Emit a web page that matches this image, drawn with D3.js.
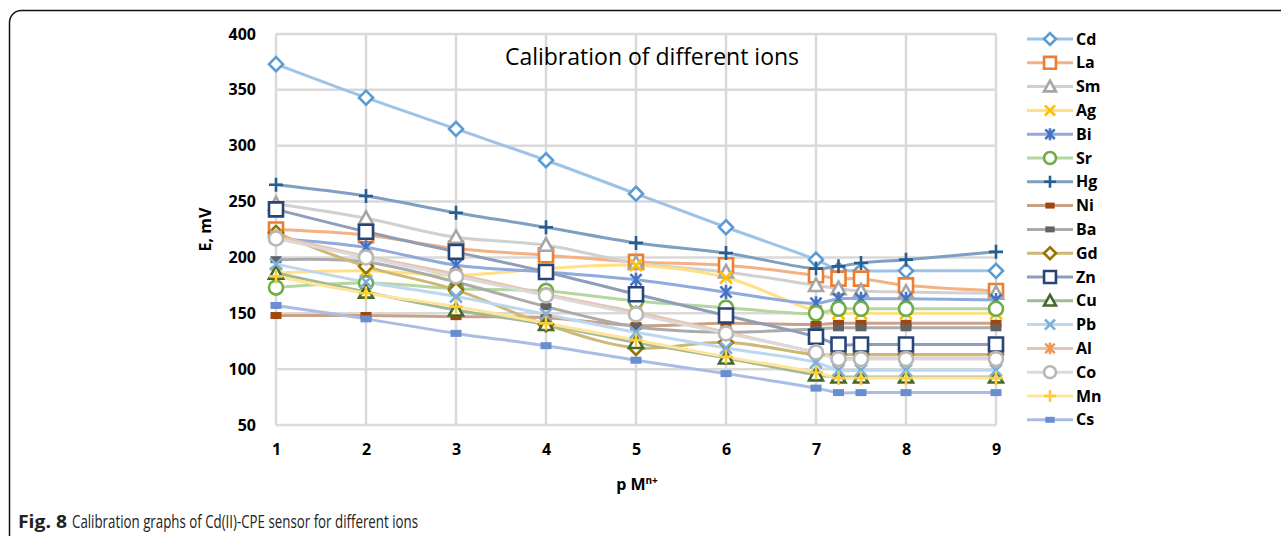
<!DOCTYPE html>
<html>
<head>
<meta charset="utf-8">
<script src="https://cdn.jsdelivr.net/npm/d3@7"></script>
<style>
  html, body { margin: 0; padding: 0; background: #fff; }
  svg { display: block; }
  text { font-family: "Open Sans", "Liberation Sans", sans-serif; }
</style>
</head>
<body>
<svg id="chart" width="1281" height="536"></svg>
<script>
// pM values (x) shared by every ion series
const pM = [1, 2, 3, 4, 5, 6, 7, 7.25, 7.5, 8, 9];

// Electrode potential E (mV) for each interfering ion
const Cd = [373, 343, 315, 287, 257, 227, 198, 189, 188, 188, 188];
const La = [225, 220, 208, 202, 196, 193, 184, 181, 181, 175, 170];
const Sm = [248, 235, 218, 211, 195, 187, 175, 172, 170, 169, 168];
const Ag = [186, 188, 184, 190, 193, 182, 152, 150, 150, 150, 150];
const Bi = [217, 209, 193, 187, 180, 169, 159, 163, 163, 163, 162];
const Sr = [173, 177, 172, 170, 161, 155, 150, 154, 154, 154, 154];
const Hg = [265, 255, 240, 227, 213, 204, 190, 192, 195, 198, 205];
const Ni = [148, 148, 147, 146, 139, 141, 140, 141, 141, 141, 141];
const Ba = [198, 196, 178, 156, 138, 133, 136, 137, 137, 137, 137];
const Gd = [222, 192, 171, 140, 119, 124, 113, 113, 113, 113, 113];
const Zn = [243, 223, 205, 187, 167, 148, 129, 122, 122, 122, 122];
const Cu = [186, 169, 153, 140, 124, 110, 95, 93, 93, 93, 93];
const Pb = [194, 178, 165, 149, 133, 119, 106, 99, 99, 99, 99];
const Al = [219, 201, 185, 167, 151, 133, 115, 110, 110, 110, 110];
const Co = [217, 200, 183, 166, 149, 132, 115, 109, 109, 109, 109];
const Mn = [183, 168, 156, 141, 126, 111, 97, 92, 92, 92, 92];
const Cs = [157, 145, 132, 121, 108, 96, 83, 79, 79, 79, 79];

const ionNames = ["Cd", "La", "Sm", "Ag", "Bi", "Sr", "Hg", "Ni", "Ba", "Gd", "Zn", "Cu", "Pb", "Al", "Co", "Mn", "Cs"];
const ionValues = [Cd, La, Sm, Ag, Bi, Sr, Hg, Ni, Ba, Gd, Zn, Cu, Pb, Al, Co, Mn, Cs];

// Axis ticks
const xTicks = [1, 2, 3, 4, 5, 6, 7, 8, 9];
const yTicks = [50, 100, 150, 200, 250, 300, 350, 400];

// Styling per ion: line colour, marker colour, marker shape
const styles = {
  Cd: { line: "#9DC3E6", mark: "#5B9BD5", shape: "diamond" },
  La: { line: "#F4B183", mark: "#ED7D31", shape: "square" },
  Sm: { line: "#D0D0D0", mark: "#A5A5A5", shape: "triangle" },
  Ag: { line: "#FFE083", mark: "#FFC000", shape: "x" },
  Bi: { line: "#8FAADC", mark: "#4472C4", shape: "star" },
  Sr: { line: "#B4D7A0", mark: "#70AD47", shape: "circle" },
  Hg: { line: "#7F9FC2", mark: "#255E91", shape: "plus" },
  Ni: { line: "#C9A186", mark: "#9E480E", shape: "dash" },
  Ba: { line: "#ABABAB", mark: "#636363", shape: "dash" },
  Gd: { line: "#CDB876", mark: "#997300", shape: "diamond" },
  Zn: { line: "#8E9DB8", mark: "#264478", shape: "square" },
  Cu: { line: "#A3B994", mark: "#43682B", shape: "triangle" },
  Pb: { line: "#BDD7EE", mark: "#7CAFDD", shape: "x" },
  Al: { line: "#E9C2AC", mark: "#F1975A", shape: "star" },
  Co: { line: "#DADADA", mark: "#B7B7B7", shape: "circle" },
  Mn: { line: "#FFE59A", mark: "#FFCD33", shape: "plus" },
  Cs: { line: "#A9BCE4", mark: "#698ED0", shape: "dash" }
};

const series = ionNames.map((name, i) => ({
  name,
  points: pM.map((x, j) => ({ x, y: ionValues[i][j] })),
  ...styles[name]
}));

const svg = d3.select("#chart");

// Outer rounded frame
svg.append("rect")
  .attr("x", 9.5).attr("y", 10.5)
  .attr("width", 1400).attr("height", 700)
  .attr("rx", 12).attr("ry", 12)
  .attr("fill", "none").attr("stroke", "#111").attr("stroke-width", 1.5);

const plot = { left: 276, right: 996, top: 34, bottom: 425 };
const x = d3.scaleLinear().domain([1, 9]).range([plot.left, plot.right]);
const y = d3.scaleLinear().domain([50, 400]).range([plot.bottom, plot.top]);

// Gridlines
const grid = svg.append("g");
grid.selectAll("line.h").data(yTicks).join("line")
  .attr("x1", plot.left).attr("x2", plot.right)
  .attr("y1", d => y(d)).attr("y2", d => y(d))
  .attr("stroke", "#D9D9D9").attr("stroke-width", 2.5);
grid.selectAll("line.v").data(xTicks).join("line")
  .attr("y1", plot.top).attr("y2", plot.bottom)
  .attr("x1", d => x(d)).attr("x2", d => x(d))
  .attr("stroke", "#D9D9D9").attr("stroke-width", 2.5);

// Axes (labels only, no domain lines)
const yAxis = svg.append("g")
  .attr("transform", `translate(${plot.left - 20},0)`)
  .call(d3.axisLeft(y).tickValues(yTicks).tickSize(0).tickPadding(0));
const xAxis = svg.append("g")
  .attr("transform", `translate(0,${plot.bottom + 19})`)
  .call(d3.axisBottom(x).tickValues(xTicks).tickSize(0).tickPadding(0));
[yAxis, xAxis].forEach(g => {
  g.select(".domain").remove();
  g.selectAll("text")
    .attr("font-family", "'Open Sans', 'Liberation Sans', sans-serif")
    .attr("font-size", 16).attr("font-weight", "bold").attr("fill", "#000");
});

// Axis titles
svg.append("text")
  .attr("transform", `translate(211,${(plot.top + plot.bottom) / 2}) rotate(-90)`)
  .attr("text-anchor", "middle")
  .attr("font-size", 16).attr("font-weight", "bold")
  .text("E, mV");

const xt = svg.append("text")
  .attr("x", 637).attr("y", 490)
  .attr("text-anchor", "middle")
  .attr("font-size", 16).attr("font-weight", "bold");
xt.append("tspan").text("p M");
xt.append("tspan").attr("dy", -6).attr("font-size", 10).text("n+");

// Chart title
svg.append("text")
  .attr("x", 652).attr("y", 65)
  .attr("text-anchor", "middle")
  .attr("font-size", 23)
  .attr("fill", "#000")
  .text("Calibration of different ions");

// Marker drawing
function markerPath(shape, k) {
  const s = 7 * k;
  switch (shape) {
    case "diamond": return `M0,${-s}L${s},0L0,${s}L${-s},0Z`;
    case "square": return `M${-s},${-s}H${s}V${s}H${-s}Z`;
    case "triangle": return `M0,${-s}L${s},${s * 0.8}L${-s},${s * 0.8}Z`;
    case "x": { const t = s * 0.85; return `M${-t},${-t}L${t},${t}M${-t},${t}L${t},${-t}`; }
    case "star": { const t = s * 0.8; return `M${-t},${-t}L${t},${t}M${-t},${t}L${t},${-t}M0,${-s}L0,${s}`; }
    case "plus": return `M${-s},0L${s},0M0,${-s}L0,${s}`;
  }
  return "";
}

function drawMarker(g, shape, color, k) {
  if (shape === "circle") {
    g.append("circle").attr("r", 7 * k)
      .attr("fill", "#fff").attr("stroke", color).attr("stroke-width", 2.6);
  } else if (shape === "dash") {
    g.append("rect").attr("x", -5.5 * k).attr("y", -3.5 * k)
      .attr("width", 11 * k).attr("height", 7 * k).attr("fill", color);
  } else {
    const filled = ["diamond", "square", "triangle"].includes(shape);
    g.append("path").attr("d", markerPath(shape, k))
      .attr("fill", filled ? "#fff" : "none")
      .attr("stroke", color).attr("stroke-width", 2.6)
      .attr("stroke-linejoin", "miter");
  }
}

const line = d3.line()
  .x(d => x(d.x)).y(d => y(d.y))
  .curve(d3.curveCatmullRom.alpha(0.5));

// Series lines
svg.append("g").selectAll("path").data(series).join("path")
  .attr("d", d => line(d.points))
  .attr("fill", "none")
  .attr("stroke", d => d.line)
  .attr("stroke-width", 3)
  .attr("stroke-linejoin", "round");

// Series markers
const markers = svg.append("g");
series.forEach(s => {
  s.points.forEach(p => {
    const g = markers.append("g").attr("transform", `translate(${x(p.x)},${y(p.y)})`);
    drawMarker(g, s.shape, s.mark, 1);
  });
});

// Legend
const legend = svg.append("g");
const legY0 = 39, legStep = 23.8;
series.forEach((s, i) => {
  const g = legend.append("g").attr("transform", `translate(0,${legY0 + i * legStep})`);
  g.append("line").attr("x1", 1027).attr("x2", 1073).attr("y1", 0).attr("y2", 0)
    .attr("stroke", s.line).attr("stroke-width", 3);
  const m = g.append("g").attr("transform", "translate(1050,0)");
  drawMarker(m, s.shape, s.mark, 0.85);
  g.append("text").attr("x", 1076).attr("y", 0).attr("dy", "0.35em")
    .attr("font-size", 16).attr("font-weight", "bold").text(s.name);
});

// Figure caption (condensed to fit the frame width)
svg.append("text")
  .attr("x", 18).attr("y", 528)
  .attr("font-size", 18).attr("font-weight", "bold").attr("fill", "#222")
  .attr("textLength", 49).attr("lengthAdjust", "spacingAndGlyphs")
  .text("Fig. 8");
svg.append("text")
  .attr("x", 72).attr("y", 528)
  .attr("font-size", 18).attr("fill", "#222")
  .attr("textLength", 346).attr("lengthAdjust", "spacingAndGlyphs")
  .text("Calibration graphs of Cd(II)-CPE sensor for different ions");
</script>
</body>
</html>
